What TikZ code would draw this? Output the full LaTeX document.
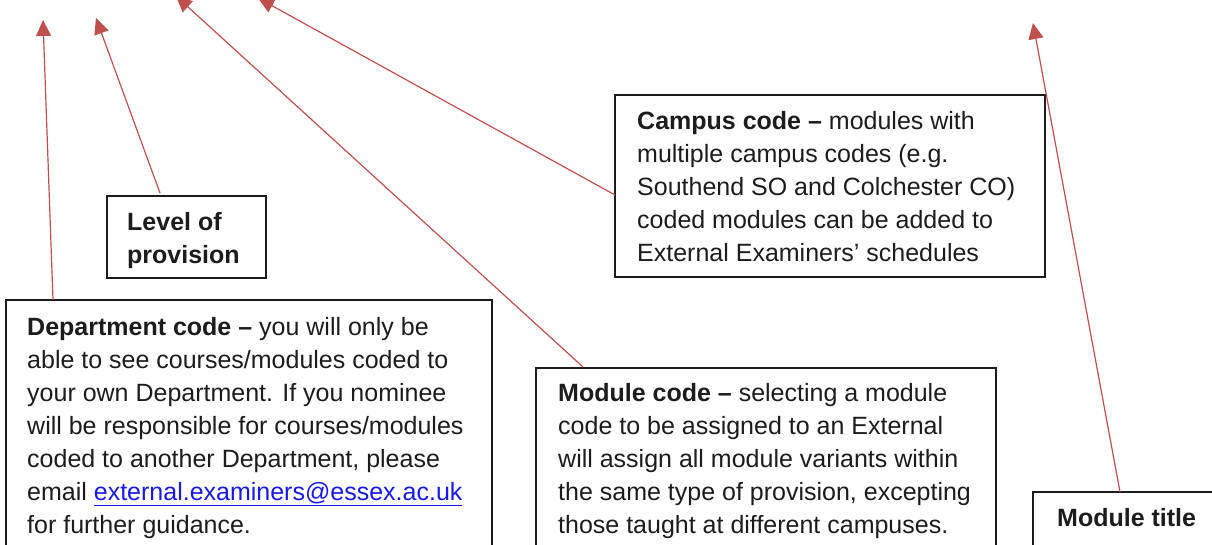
\documentclass[tikz,border=0pt]{standalone}
\usepackage{fontspec}
\setmainfont{Liberation Sans}
\usetikzlibrary{arrows.meta,calc}
\definecolor{arrowred}{RGB}{192,80,77}
\definecolor{linkblue}{RGB}{25,25,230}
\definecolor{ink}{RGB}{28,28,28}
\begin{document}
\begin{tikzpicture}[x=1pt,y=-1pt,
  box/.style={draw=ink, line width=1.4pt, anchor=north west, inner sep=0pt, outer sep=0pt},
  txt/.style={anchor=north west, inner sep=0pt, align=left, text=ink, font=\fontsize{25}{33}\selectfont},
  pointer/.style={draw=arrowred, line width=1.2pt, -{Triangle[length=16pt,width=15pt]}}
]
\useasboundingbox (0,0) rectangle (1212,545);
\clip (0,0) rectangle (1212,545);

% boxes
\node[box, minimum width=159pt, minimum height=82pt] (level) at (107,196) {};
\node[box, minimum width=486pt, minimum height=300pt] (dept) at (6,300) {};
\node[box, minimum width=430pt, minimum height=182pt] (campus) at (615,95) {};
\node[box, minimum width=460pt, minimum height=250pt] (modcode) at (536,368) {};
\node[box, minimum width=250pt, minimum height=100pt] (title) at (1033,492) {};

% texts
\node[txt] (leveltxt) at (127,212) {\bfseries Level of\\\bfseries provision};
\node[txt] (depttxt) at (27,317) {\textbf{Department code –} you will only be\\
able to see courses/modules coded to\\
your own Department. If you nominee\\
will be responsible for courses/modules\\
coded to another Department, please\\
email \textcolor{linkblue}{\underline{external.examiners@essex.ac.uk}}\\
for further guidance.};
\node[txt] (campustxt) at (637,111) {\textbf{Campus code –} modules with\\
multiple campus codes (e.g.\\
Southend SO and Colchester CO)\\
coded modules can be added to\\
External Examiners’ schedules};
\node[txt] (modtxt) at (558,383) {\textbf{Module code –} selecting a module\\
code to be assigned to an External\\
will assign all module variants within\\
the same type of provision, excepting\\
those taught at different campuses.};
\node[txt] (titletxt) at (1057,508) {\bfseries Module title};

% arrow tips
\coordinate (tipdept) at (43,20);
\coordinate (tiplevel) at (96,18);
\coordinate (tipmod) at (176,-4);
\coordinate (tipcampus) at (258,-2);
\coordinate (tiptitle) at (1033,23);

% connectors
\draw[pointer] ($(dept.north west)+(47,0)$) -- (tipdept);
\draw[pointer] ($(level.north west)+(53,-3)$) -- (tiplevel);
\draw[pointer] ($(modcode.north west)+(47,-1)$) -- (tipmod);
\draw[pointer] ($(campus.north west)+(0,100)$) -- (tipcampus);
\draw[pointer] ($(title.north west)+(87,0)$) -- (tiptitle);
\end{tikzpicture}
\end{document}
